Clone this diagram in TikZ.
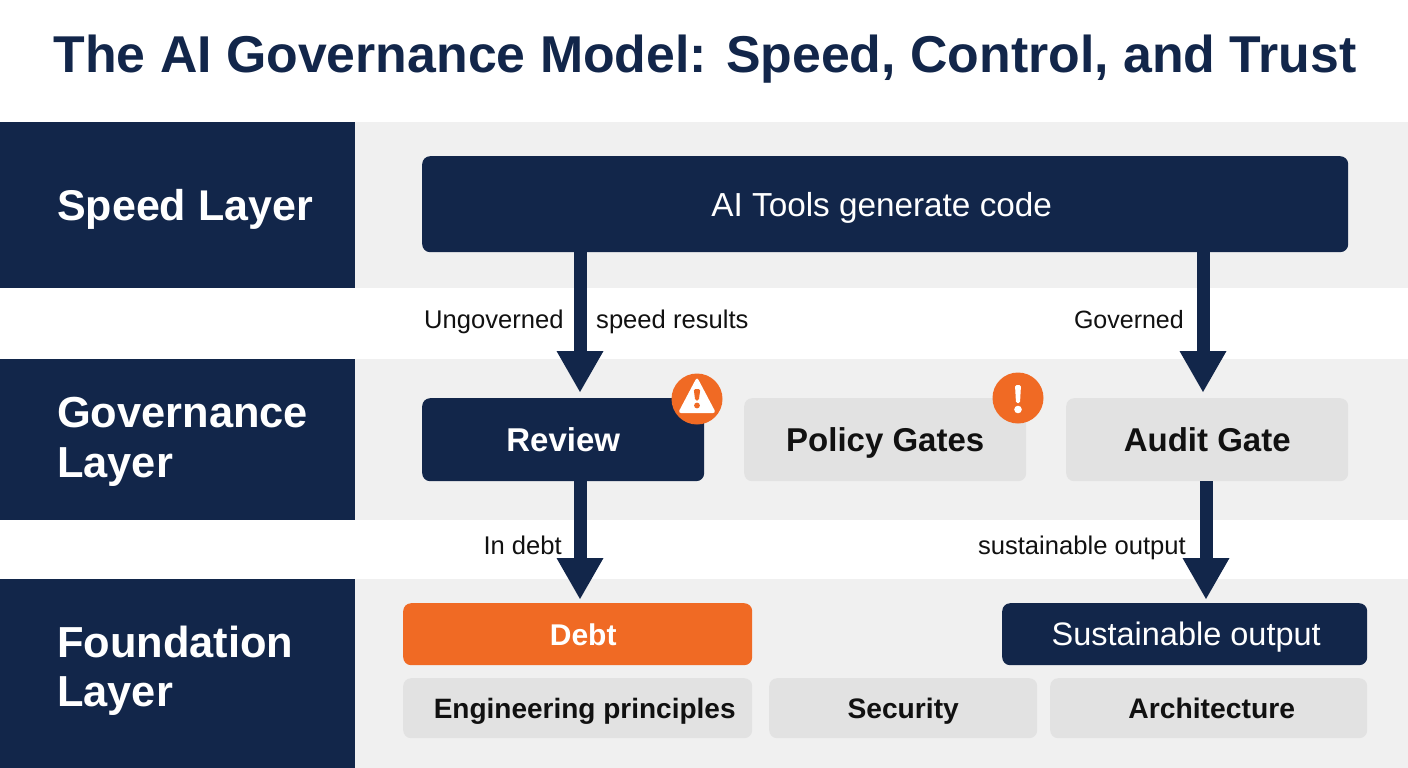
\documentclass[tikz,border=0pt]{standalone}
\usepackage{fontspec}
\setmainfont{Liberation Sans}
\usetikzlibrary{arrows.meta}
\definecolor{navy}{HTML}{12264A}
\definecolor{band}{HTML}{F0F0F0}
\definecolor{chip}{HTML}{E2E2E2}
\definecolor{hot}{HTML}{F06A24}
\definecolor{ink}{HTML}{111111}
\newcommand{\fs}[1]{\fontsize{#1}{#1}\selectfont}
\newcommand{\fsl}[2]{\fontsize{#1}{#2}\selectfont}
\tikzset{
 x=1pt,y=-1pt,
 fz/.style={font=\fs{#1},text height=#1*0.72pt,text depth=0pt},
 fzb/.style={font=\fs{#1}\bfseries,text height=#1*0.72pt,text depth=0pt},
 box/.style={rounded corners=8pt,inner sep=0pt,anchor=north west},
 navybox/.style={box,fill=navy,text=white},
 chipbox/.style={box,fill=chip,text=ink},
 hotbox/.style={box,fill=hot,text=white},
 layer/.style={anchor=west,align=left,text=white,inner sep=0pt,font=\fsl{43.4}{49.5}\bfseries},
 lab/.style={inner sep=0pt,text=ink,fz=25.6},
 flow/.style={draw=navy,line width=13pt,shorten >=6pt,-{Triangle[length=41pt,width=47pt,line width=0pt,fill=navy]}},
 flowlow/.style={flow,shorten >=4pt},
 badge/.style={circle,fill=hot,minimum size=51pt,inner sep=0pt}
}
\begin{document}
\begin{tikzpicture}
\useasboundingbox (0,0) rectangle (1408,768);
\fill[white] (0,0) rectangle (1408,768);
% bands
\fill[band] (355,122) rectangle (1408,288);
\fill[band] (355,359) rectangle (1408,520);
\fill[band] (355,579) rectangle (1408,768);
\fill[navy] (0,122) rectangle (355,288);
\fill[navy] (0,359) rectangle (355,520);
\fill[navy] (0,579) rectangle (355,768);
% title
\node[inner sep=0pt,text=navy,fzb=51.8] (title) at (705,54) {The AI Governance Model: Speed, Control, and Trust};
% layers
\node[anchor=west,text=white,inner sep=0pt,fzb=43] (l1) at (57,205) {Speed Layer};
\node[layer] (l2) at (57,442) {Governance\\Layer};
\node[layer] (l3) at (57,671) {Foundation\\Layer};
% boxes
\node[navybox,minimum width=926pt,minimum height=96pt,fz=33.3] (ai) at (422,156) {\hspace*{-7pt}AI Tools generate code};
\node[navybox,minimum width=282pt,minimum height=83pt,fzb=33] (review) at (422,398) {Review};
\node[chipbox,minimum width=282pt,minimum height=83pt,fzb=33] (policy) at (744,398) {Policy Gates};
\node[chipbox,minimum width=282pt,minimum height=83pt,fzb=33] (audit) at (1066,398) {Audit Gate};
\node[hotbox,minimum width=349pt,minimum height=62pt,fzb=30] (debt) at (403,603) {\hspace*{11pt}Debt};
\node[navybox,minimum width=365pt,minimum height=62pt,fz=32.5] (sust) at (1002,603) {\hspace*{3pt}Sustainable output};
\node[chipbox,minimum width=349pt,minimum height=60pt,fzb=28] (eng) at (403,678) {\hspace*{14pt}Engineering principles};
\node[chipbox,minimum width=268pt,minimum height=60pt,fzb=28.2] (sec) at (769,678) {Security};
\node[chipbox,minimum width=317pt,minimum height=60pt,fzb=28.3] (arch) at (1050,678) {\hspace*{6pt}Architecture};
% connectors
\draw[flow] (580,0 |- ai.south) -- (580,0 |- review.north);
\draw[flow] (1203,0 |- ai.south) -- (1203,0 |- audit.north);
\draw[flowlow] (580,0 |- review.south) -- (580,0 |- debt.north);
\draw[flowlow] (1206,0 |- audit.south) -- (1206,0 |- sust.north);
% labels
\node[lab,anchor=west] (t1) at (424,319) {Ungoverned};
\node[lab,anchor=west] (t2) at (596,319) {speed results};
\node[lab,anchor=east,fz=25] (t3) at (1184,319) {Governed};
\node[lab,anchor=east] (t4) at (562,545) {In debt};
\node[lab,anchor=east] (t5) at (1186,545) {sustainable output};
% badges
\node[badge] (b1) at (697,399) {};
\fill[white,rounded corners=3pt] (697,377) -- (716,413) -- (678,413) -- cycle;
\fill[hot,rounded corners=1.5pt] (693.7,389) -- (700.3,389) -- (698.8,400.5) -- (695.2,400.5) -- cycle;
\fill[hot] (697,405.5) circle (2.9);
\node[badge] (b2) at (1018,398) {};
\fill[white,rounded corners=1.5pt] (1015,385) -- (1021,385) -- (1020,403) -- (1016,403) -- cycle;
\fill[white] (1018,409.5) circle (3.8);
\end{tikzpicture}
\end{document}
